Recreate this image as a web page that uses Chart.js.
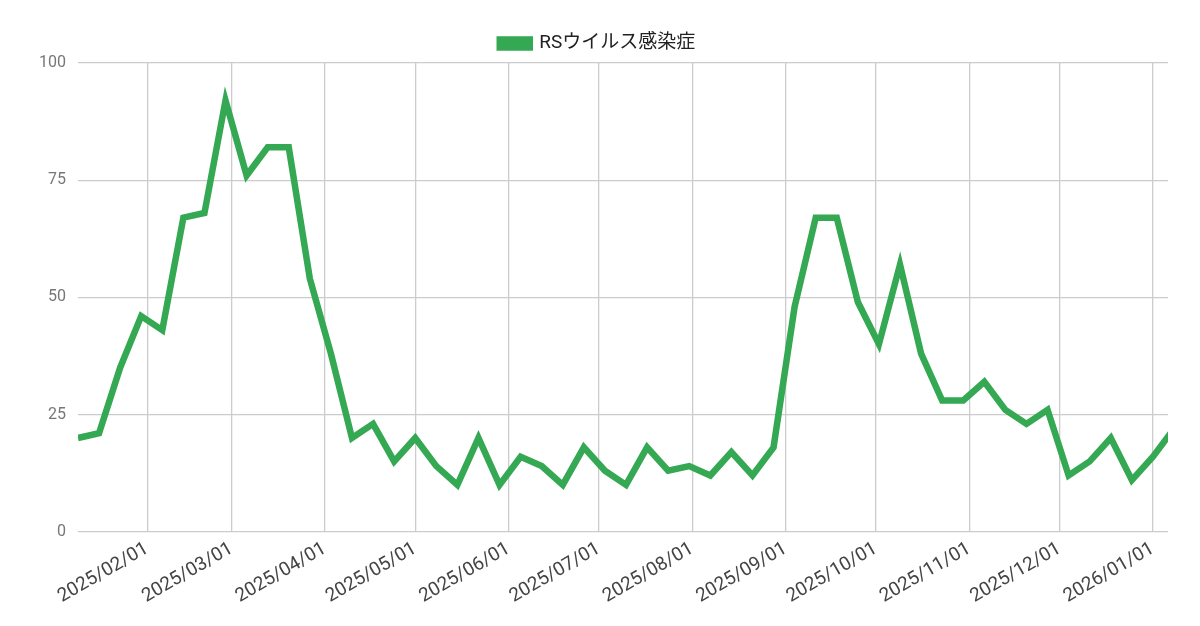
<!DOCTYPE html>
<html>
<head>
<meta charset="utf-8">
<script src="https://cdn.jsdelivr.net/npm/chart.js@4"></script>
<style>
  body { margin: 0; background: #fff; }
  #wrap { width: 1200px; height: 626px; }
</style>
</head>
<body>
<div id="wrap"><canvas id="chart"></canvas></div>
<script>
// day-of-year (from 2025/01/01) of each weekly report
const weekDays = [8, 15, 22, 29, 36, 43, 50, 57, 64, 71, 78, 85, 92, 99, 106, 113, 120, 127, 134, 141,
  148, 155, 162, 169, 176, 183, 190, 197, 204, 211, 218, 225, 232, 239, 246, 253, 260, 267, 274, 281,
  288, 295, 302, 309, 316, 323, 330, 337, 344, 351, 358, 365, 372];
const rsValues = [20, 21, 35, 46, 43, 67, 68, 92, 76, 82, 82, 54, 38, 20, 23, 15, 20, 14, 10, 20,
  10, 16, 14, 10, 18, 13, 10, 18, 13, 14, 12, 17, 12, 18, 48, 67, 67, 49, 40, 57,
  38, 28, 28, 32, 26, 23, 26, 12, 15, 20, 11, 16, 22];
const tickDays = [31, 59, 90, 120, 151, 181, 212, 243, 273, 304, 334, 365];
const tickLabels = ['2025/02/01', '2025/03/01', '2025/04/01', '2025/05/01', '2025/06/01', '2025/07/01',
  '2025/08/01', '2025/09/01', '2025/10/01', '2025/11/01', '2025/12/01', '2026/01/01'];

Chart.defaults.font.family = 'Roboto, "Noto Sans CJK JP", sans-serif';

new Chart(document.getElementById('chart'), {
  type: 'line',
  data: {
    datasets: [{
      label: 'RSウイルス感染症',
      data: weekDays.map((d, i) => ({ x: d, y: rsValues[i] })),
      borderColor: '#34a853',
      backgroundColor: '#34a853',
      borderWidth: 6.5,
      pointRadius: 0,
      tension: 0,
      fill: false
    }]
  },
  options: {
    responsive: true,
    maintainAspectRatio: false,
    animation: false,
    layout: { padding: { left: 27, right: 32, top: 8, bottom: 12 } },
    plugins: {
      legend: {
        position: 'top',
        labels: { boxWidth: 30, boxHeight: 8, font: { size: 19 }, color: '#222', padding: 26 }
      },
      tooltip: { enabled: false }
    },
    scales: {
      x: {
        type: 'linear',
        min: 8,
        max: 370,
        afterBuildTicks: axis => { axis.ticks = tickDays.map(v => ({ value: v })); },
        ticks: {
          callback: v => tickLabels[tickDays.indexOf(v)],
          maxRotation: 30, minRotation: 30,
          font: { size: 19 }, color: '#444', autoSkip: false, padding: 6
        },
        grid: { color: '#ccc', drawTicks: false, lineWidth: 1.3 },
        border: { display: false }
      },
      y: {
        min: 0, max: 100,
        ticks: { stepSize: 25, font: { size: 16 }, color: '#777', padding: 12 },
        grid: { color: '#ccc', drawTicks: false, lineWidth: 1.3 },
        border: { display: false }
      }
    }
  }
});
</script>
</body>
</html>
